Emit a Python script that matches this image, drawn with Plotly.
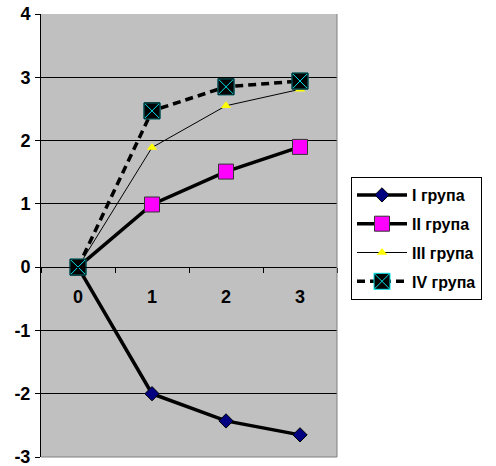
import plotly.graph_objects as go

categories = ["0", "1", "2", "3"]
group_I = [0, -2.0, -2.43, -2.65]
group_II = [0, 0.99, 1.51, 1.90]
group_III = [0, 1.89, 2.55, 2.81]
group_IV = [0, 2.47, 2.85, 2.94]
names = ["I група", "II група", "III група", "IV група"]
y_tickvals = [-3, -2, -1, 0, 1, 2, 3, 4]
y_ticktext = ["-3", "-2", "-1", "0", "1", "2", "3", "4"]

FONT = "Liberation Sans"
FS = 18
LFS = 16

fig = go.Figure()
fig.add_trace(go.Scatter(
    x=categories, y=group_I, name=names[0], mode="lines+markers", legendgroup="g1",
    line=dict(color="black", width=3.5),
    marker=dict(symbol="diamond", size=11, color="#000080", line=dict(color="black", width=1)),
))
fig.add_trace(go.Scatter(
    x=categories, y=group_II, name=names[1], mode="lines+markers", legendgroup="g2",
    line=dict(color="black", width=3.5),
    marker=dict(symbol="square", size=15, color="#FF00FF", line=dict(color="#333333", width=1)),
))
fig.add_trace(go.Scatter(
    x=categories, y=group_III, name=names[2], mode="lines+markers", legendgroup="g3",
    line=dict(color="black", width=1),
    marker=dict(symbol="triangle-up", size=9, color="#FFFF00", line=dict(width=0)),
))
fig.add_trace(go.Scatter(
    x=categories, y=group_IV, name=names[3], mode="lines+markers", legendgroup="g4",
    line=dict(color="black", width=3.5, dash="8px,5px"),
    marker=dict(symbol="square-x", size=16, color="black", line=dict(color="#00E5EE", width=1)),
))
fig.add_trace(go.Scatter(
    x=categories, y=group_IV, name=names[3], mode="markers", legendgroup="g4", showlegend=False,
    marker=dict(symbol="square-open", size=16, color="black", line=dict(color="black", width=1)),
))

fig.update_layout(
    width=496, height=466,
    margin=dict(l=41, r=159, t=14, b=9, autoexpand=False),
    paper_bgcolor="white",
    plot_bgcolor="#C0C0C0",
    font=dict(family=FONT, size=FS, color="black", weight="bold"),
    showlegend=True,
    legend=dict(
        x=351 / 496, y=1 - 177 / 466, xref="container", yref="container",
        xanchor="left", yanchor="top",
        bgcolor="white", bordercolor="black", borderwidth=1,
        font=dict(family=FONT, size=LFS, color="black", weight="bold"),
        traceorder="grouped", tracegroupgap=5, itemwidth=50,
    ),
    xaxis=dict(
        type="category", range=[-0.5, 3.5], automargin=False,
        anchor="free", position=3 / 7,
        showline=True, linecolor="black", linewidth=1,
        ticks="outside", tickson="boundaries", ticklen=5, tickcolor="black",
        ticklabelstandoff=13,
        showgrid=False, zeroline=False,
        tickfont=dict(family=FONT, size=FS, color="black", weight="bold"),
    ),
    yaxis=dict(
        range=[-3, 4], tickvals=y_tickvals, ticktext=y_ticktext, automargin=False,
        showline=True, linecolor="black", linewidth=1,
        ticks="outside", ticklen=5, tickcolor="black", ticklabelstandoff=1,
        ticklabeloverflow="allow",
        showgrid=True, gridcolor="black", gridwidth=1,
        zeroline=False,
        tickfont=dict(family=FONT, size=FS, color="black", weight="bold"),
    ),
    shapes=[
        dict(type="line", xref="x domain", yref="y domain", x0=1, x1=1, y0=0, y1=1,
             line=dict(color="#808080", width=1), layer="above"),
        dict(type="line", xref="x domain", yref="y domain", x0=0, x1=1, y0=0, y1=0,
             line=dict(color="#808080", width=1), layer="above"),
    ],
)

fig.write_html("out.html")
